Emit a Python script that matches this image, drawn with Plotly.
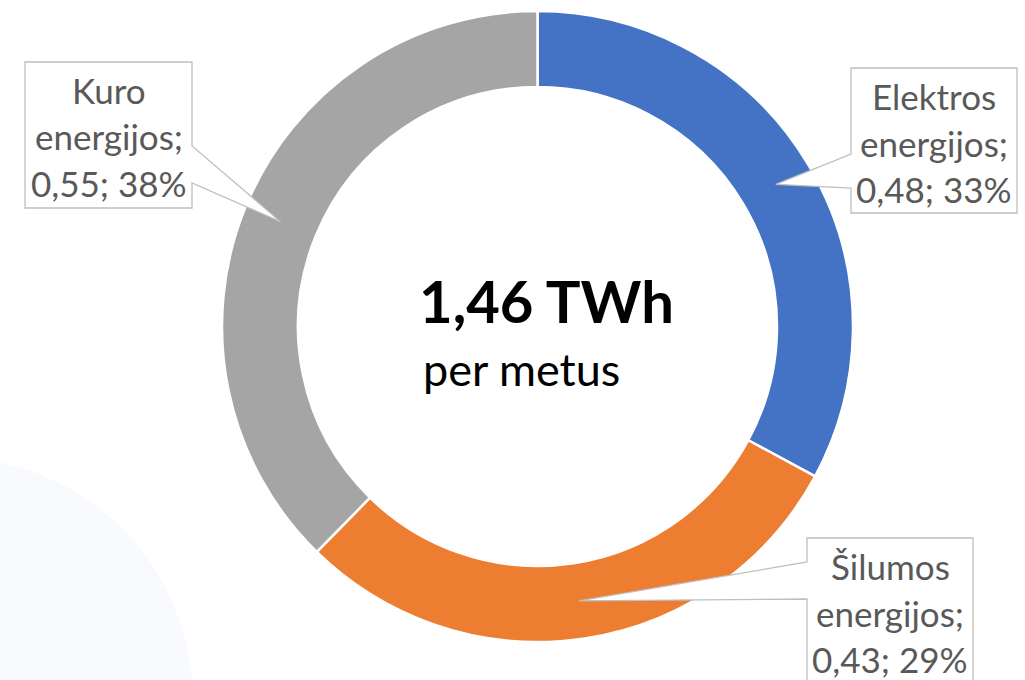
import math
import plotly.graph_objects as go

# ---- data ----
categories = ["Elektros energijos", "Šilumos energijos", "Kuro energijos"]
values = [0.48, 0.43, 0.55]
colors = ["#4472C4", "#ED7D31", "#A5A5A5"]
center_value = "1,46 TWh"
center_sub = "per metus"

W, H = 1025, 680
CX, CY = 537.5, 326.5
R_OUT, R_IN = 315.5, 239.5

def px(x):
    return x / W

def py(y):
    return 1 - y / H

total = sum(values)

fig = go.Figure()
fig.add_trace(go.Pie(
    values=values, labels=categories, sort=False, direction="clockwise",
    rotation=0, hole=R_IN / R_OUT,
    marker=dict(colors=colors, line=dict(color="white", width=2.5)),
    textinfo="none", hoverinfo="skip", showlegend=False,
    domain=dict(x=[px(CX - R_OUT), px(CX + R_OUT)], y=[py(CY + R_OUT), py(CY - R_OUT)]),
))

# faint background circle
shapes = [dict(type="circle", xref="paper", yref="paper", layer="below",
               x0=px(-50 - 243), x1=px(-50 + 243), y0=py(700 + 243), y1=py(700 - 243),
               fillcolor="#F9FAFE", line=dict(width=0))]

# callout boxes (layout): box x0, y0, x1, y1, wedge side, wedge y a, wedge y b
boxes = [
    (851, 68, 1017, 213, "left", 154, 188),
    (807, 538, 973, 720, "left", 562, 599),
    (25, 62, 192, 208, "right", 146, 183),
]

annotations = []
cum = 0.0
r_mid = (R_OUT + R_IN) / 2
for i, (cat, v) in enumerate(zip(categories, values)):
    mid = (cum + v / 2) / total * 2 * math.pi
    cum += v
    tx = CX + r_mid * math.sin(mid)
    ty = CY - r_mid * math.cos(mid)
    x0, y0, x1, y1, side, ya, yb = boxes[i]
    if side == "left":
        pts = [(x0, y0), (x1, y0), (x1, y1), (x0, y1), (x0, yb), (tx, ty), (x0, ya)]
    else:
        pts = [(x0, y0), (x1, y0), (x1, ya), (tx, ty), (x1, yb), (x1, y1), (x0, y1)]
    path = "M " + " L ".join(f"{px(a):.5f},{py(b):.5f}" for a, b in pts) + " Z"
    shapes.append(dict(type="path", path=path, xref="paper", yref="paper", layer="above",
                       fillcolor="white", line=dict(color="#BFBFBF", width=1.3)))
    words = cat.split(" ")
    pct = round(v / total * 100)
    lines = [words[0], words[1] + ";", f"{v:.2f}".replace(".", ",") + f"; {pct}%"]
    xc = (x0 + x1) / 2
    for j, line in enumerate(lines):
        annotations.append(dict(text=line, x=px(xc), y=py(y0 + 28 + j * 46.5),
                                xref="paper", yref="paper", showarrow=False,
                                xanchor="center", yanchor="middle",
                                font=dict(family="Lato", size=35, color="#595959")))

annotations.append(dict(text=f"<b>{center_value}</b>", x=px(546), y=py(300), xref="paper",
                        yref="paper", showarrow=False, xanchor="center", yanchor="middle",
                        font=dict(family="Lato", size=58, color="black")))
annotations.append(dict(text=center_sub, x=px(521), y=py(369), xref="paper",
                        yref="paper", showarrow=False, xanchor="center", yanchor="middle",
                        font=dict(family="Lato", size=45, color="black")))

fig.update_layout(width=W, height=H, margin=dict(l=0, r=0, t=0, b=0),
                  paper_bgcolor="white", plot_bgcolor="white",
                  shapes=shapes, annotations=annotations)
fig.write_html("out.html", config={"displayModeBar": False},
               post_script="document.body.style.margin='0px';")
